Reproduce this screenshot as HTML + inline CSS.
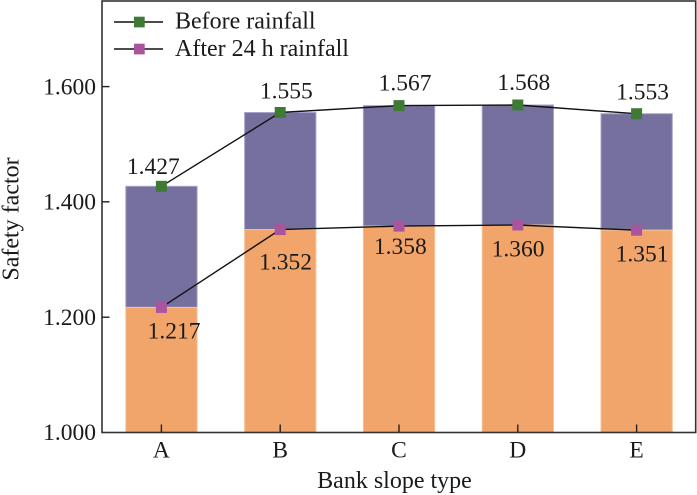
<!DOCTYPE html>
<html><head><meta charset="utf-8"><style>
html,body{margin:0;padding:0;background:#fff;}
svg{display:block;}
text{font-family:"Liberation Serif","Times New Roman",serif;font-size:23.5px;fill:#1a1a1a;}
.big{font-size:24px;}
</style></head><body>
<svg width="697" height="495" viewBox="0 0 697 495" xmlns="http://www.w3.org/2000/svg">
<!-- bars -->
<g stroke-width="1">
<rect x="125.8" y="186.3" width="71.3" height="121.1" fill="#76709f" stroke="#a9a3cc"/>
<rect x="125.8" y="307.4" width="71.3" height="125.1" fill="#f2a56a" stroke="#f6c39a"/>
<rect x="244.6" y="112.5" width="71.3" height="117.1" fill="#76709f" stroke="#a9a3cc"/>
<rect x="244.6" y="229.6" width="71.3" height="202.9" fill="#f2a56a" stroke="#f6c39a"/>
<rect x="363.4" y="105.6" width="71.3" height="120.5" fill="#76709f" stroke="#a9a3cc"/>
<rect x="363.4" y="226.1" width="71.3" height="206.4" fill="#f2a56a" stroke="#f6c39a"/>
<rect x="482.2" y="105.0" width="71.3" height="120.0" fill="#76709f" stroke="#a9a3cc"/>
<rect x="482.2" y="225.0" width="71.3" height="207.5" fill="#f2a56a" stroke="#f6c39a"/>
<rect x="601.0" y="113.7" width="71.3" height="116.5" fill="#76709f" stroke="#a9a3cc"/>
<rect x="601.0" y="230.2" width="71.3" height="202.3" fill="#f2a56a" stroke="#f6c39a"/>
</g>
<!-- lines -->
<polyline points="161.4,186.3 280.2,112.5 399,105.6 517.8,105.0 636.6,113.7" fill="none" stroke="#111" stroke-width="1.4"/>
<polyline points="161.4,307.4 280.2,229.6 399,226.1 517.8,225.0 636.6,230.2" fill="none" stroke="#111" stroke-width="1.4"/>
<!-- markers -->
<g fill="#3f7a34">
<rect x="155.9" y="180.8" width="11" height="11"/>
<rect x="274.7" y="107.0" width="11" height="11"/>
<rect x="393.5" y="100.1" width="11" height="11"/>
<rect x="512.3" y="99.5" width="11" height="11"/>
<rect x="631.1" y="108.2" width="11" height="11"/>
</g>
<g fill="#a8559e">
<rect x="155.9" y="301.9" width="11" height="11"/>
<rect x="274.7" y="224.1" width="11" height="11"/>
<rect x="393.5" y="220.6" width="11" height="11"/>
<rect x="512.3" y="219.5" width="11" height="11"/>
<rect x="631.1" y="224.7" width="11" height="11"/>
</g>
<!-- value labels -->
<g text-anchor="middle">
<text x="153.3" y="174">1.427</text>
<text x="286.3" y="98.3">1.555</text>
<text x="405" y="90.7">1.567</text>
<text x="523.8" y="90">1.568</text>
<text x="642.5" y="99.3">1.553</text>
<text x="174" y="338.3">1.217</text>
<text x="285.5" y="269.3">1.352</text>
<text x="400.3" y="254">1.358</text>
<text x="518" y="256.7">1.360</text>
<text x="642" y="261.7">1.351</text>
</g>
<!-- frame -->
<rect x="102" y="1" width="593.7" height="431.5" fill="none" stroke="#333" stroke-width="1.6"/>
<!-- ticks -->
<g stroke="#222" stroke-width="1.4">
<line x1="102" y1="86.6" x2="109.5" y2="86.6"/>
<line x1="102" y1="201.8" x2="109.5" y2="201.8"/>
<line x1="102" y1="317.2" x2="109.5" y2="317.2"/>
<line x1="161.4" y1="432.5" x2="161.4" y2="424.5"/>
<line x1="280.2" y1="432.5" x2="280.2" y2="424.5"/>
<line x1="399" y1="432.5" x2="399" y2="424.5"/>
<line x1="517.8" y1="432.5" x2="517.8" y2="424.5"/>
<line x1="636.6" y1="432.5" x2="636.6" y2="424.5"/>
</g>
<g text-anchor="end">
<text x="96" y="94.5">1.600</text>
<text x="96" y="209.7">1.400</text>
<text x="96" y="325">1.200</text>
<text x="96" y="440">1.000</text>
</g>
<g text-anchor="middle">
<text x="161.4" y="457.5">A</text>
<text x="280.2" y="457.5">B</text>
<text x="399" y="457.5">C</text>
<text x="517.8" y="457.5">D</text>
<text x="636.6" y="457.5">E</text>
<text class="big" x="394.5" y="488">Bank slope type</text>
<text class="big" transform="translate(18.5,219) rotate(-90)">Safety factor</text>
</g>
<!-- legend -->
<line x1="114" y1="22" x2="163" y2="22" stroke="#111" stroke-width="1.4"/>
<rect x="134" y="16.7" width="10.7" height="10.7" fill="#3f7a34"/>
<text class="big" x="175" y="28.5">Before rainfall</text>
<line x1="114" y1="49" x2="163" y2="49" stroke="#111" stroke-width="1.4"/>
<rect x="134" y="43.7" width="10.7" height="10.7" fill="#a8559e"/>
<text class="big" x="175" y="56">After 24 h rainfall</text>
</svg>
</body></html>
